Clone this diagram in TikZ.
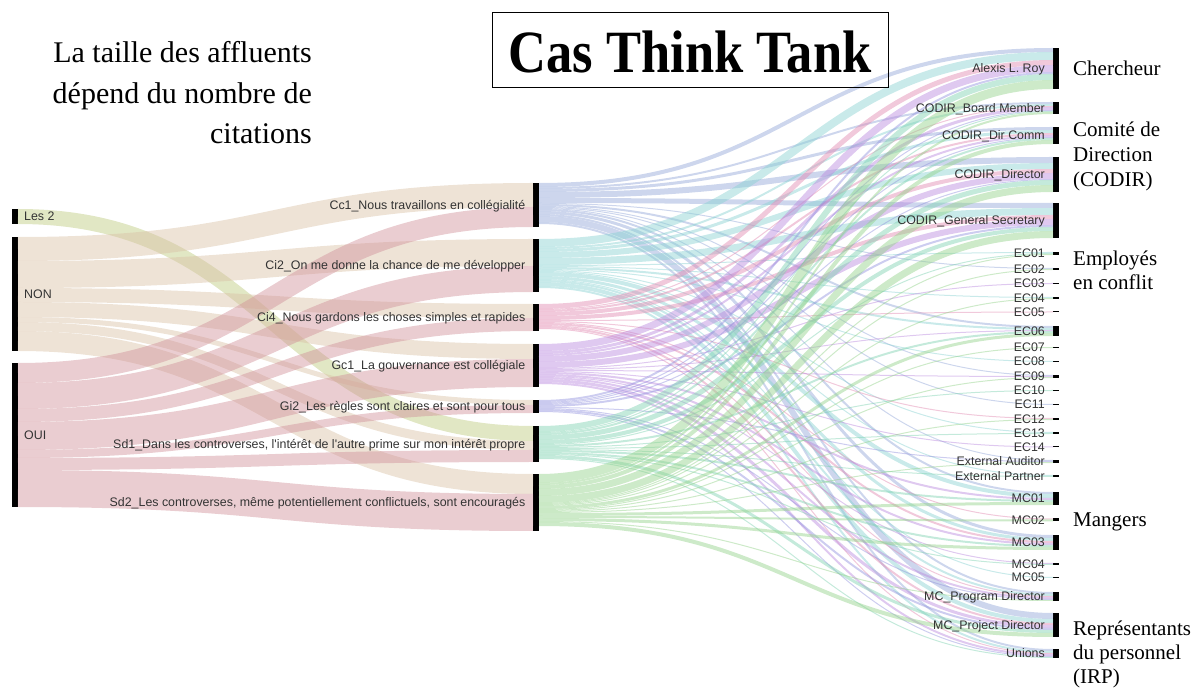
\documentclass[tikz,border=0pt]{standalone}
\usepackage{fontspec}
\setmainfont{Liberation Serif}
\newfontfamily\sansf{Liberation Sans}
\usepackage{graphicx}
\definecolor{cNON}{HTML}{D9C1A5}
\definecolor{cOUI}{HTML}{D19199}
\definecolor{cL2}{HTML}{BDC97D}
\definecolor{cCc1}{HTML}{91A5D7}
\definecolor{cCi2}{HTML}{87D1D1}
\definecolor{cCi4}{HTML}{E187AF}
\definecolor{cGc1}{HTML}{B987DD}
\definecolor{cGi2}{HTML}{9191DD}
\definecolor{cSd1}{HTML}{7DD1AF}
\definecolor{cSd2}{HTML}{91D187}
\definecolor{labelgray}{HTML}{333333}
\newcommand\lk[3]{%
  \pgfmathsetmacro\lka{\csname o@#1\endcsname}%
  \pgfmathsetmacro\lkb{\csname i@#2\endcsname}%
  \pgfmathsetmacro\lkc{\lka+#3}%
  \pgfmathsetmacro\lkd{\lkb+#3}%
  \expandafter\xdef\csname o@#1\endcsname{\lkc}%
  \expandafter\xdef\csname i@#2\endcsname{\lkd}%
  \pgfmathsetmacro\lks{\lka+#3/2}%
  \pgfmathsetmacro\lkt{\lkb+#3/2}%
  \draw[flow, draw=c#1, line width=#3pt] ([yshift=-\lks pt]#1.north east) .. controls +(257.5pt,0) and +(-257.5pt,0) .. ([yshift=-\lkt pt]#2.north west);%
}
\begin{document}
\begin{tikzpicture}[x=1pt, y=-1pt,
  bar/.style={fill=black, draw=none, inner sep=0, outer sep=0, minimum width=6pt},
  flow/.style={draw opacity=0.45},
  lbl/.style={font=\sansf\fontsize{12.4}{14}\selectfont, text=labelgray, inner sep=0},
  rl/.style={font=\fontsize{21}{25}\selectfont, anchor=base west, inner sep=0},
  tl/.style={font=\fontsize{30}{40}\selectfont, anchor=base east, inner sep=0}]
\useasboundingbox (0,0) rectangle (1203,692);
% offsets
\foreach \n in {L2,NON,OUI,Cc1,Ci2,Ci4,Gc1,Gi2,Sd1,Sd2,Roy,Board,DirComm,Director,GenSec,EC01,EC02,EC03,EC04,EC05,EC06,EC07,EC08,EC09,EC10,EC11,EC12,EC13,EC14,ExtAud,ExtPart,MC01,MC02,MC03,MC04,MC05,MCProg,MCProj,Unions}{%
  \expandafter\xdef\csname o@\n\endcsname{0}%
  \expandafter\xdef\csname i@\n\endcsname{0}}
% left bars
\node[bar, minimum height=15pt] (L2) at (15,216.5) {};
\node[bar, minimum height=114pt] (NON) at (15,294) {};
\node[bar, minimum height=144pt] (OUI) at (15,435) {};
% middle bars
\node[bar, minimum height=44pt] (Cc1) at (536,205) {};
\node[bar, minimum height=53pt] (Ci2) at (536,265.5) {};
\node[bar, minimum height=27pt] (Ci4) at (536,317.5) {};
\node[bar, minimum height=43pt] (Gc1) at (536,365.5) {};
\node[bar, minimum height=13pt] (Gi2) at (536,406.5) {};
\node[bar, minimum height=36pt] (Sd1) at (536,444) {};
\node[bar, minimum height=57pt] (Sd2) at (536,502.5) {};
% right bars
\node[bar, minimum height=41pt] (Roy) at (1056,68.5) {};
\node[bar, minimum height=12pt] (Board) at (1056,108) {};
\node[bar, minimum height=17pt] (DirComm) at (1056,135.5) {};
\node[bar, minimum height=35pt] (Director) at (1056,174.5) {};
\node[bar, minimum height=35pt] (GenSec) at (1056,220.5) {};
\node[bar, minimum height=3pt] (EC01) at (1056,253.5) {};
\node[bar, minimum height=2pt] (EC02) at (1056,269) {};
\node[bar, minimum height=1pt] (EC03) at (1056,283.5) {};
\node[bar, minimum height=2pt] (EC04) at (1056,298) {};
\node[bar, minimum height=1pt] (EC05) at (1056,312) {};
\node[bar, minimum height=10pt] (EC06) at (1056,331) {};
\node[bar, minimum height=1pt] (EC07) at (1056,347.5) {};
\node[bar, minimum height=1pt] (EC08) at (1056,361.5) {};
\node[bar, minimum height=3pt] (EC09) at (1056,376.5) {};
\node[bar, minimum height=1pt] (EC10) at (1056,390.5) {};
\node[bar, minimum height=1pt] (EC11) at (1056,404.5) {};
\node[bar, minimum height=2pt] (EC12) at (1056,419) {};
\node[bar, minimum height=2pt] (EC13) at (1056,433) {};
\node[bar, minimum height=1pt] (EC14) at (1056,447) {};
\node[bar, minimum height=3pt] (ExtAud) at (1056,461.5) {};
\node[bar, minimum height=2pt] (ExtPart) at (1056,476) {};
\node[bar, minimum height=13pt] (MC01) at (1056,498.5) {};
\node[bar, minimum height=3pt] (MC02) at (1056,520) {};
\node[bar, minimum height=15pt] (MC03) at (1056,542.5) {};
\node[bar, minimum height=2pt] (MC04) at (1056,564) {};
\node[bar, minimum height=1pt] (MC05) at (1056,577.5) {};
\node[bar, minimum height=9pt] (MCProg) at (1056,596.5) {};
\node[bar, minimum height=24pt] (MCProj) at (1056,625) {};
\node[bar, minimum height=9pt] (Unions) at (1056,653.5) {};
% left -> middle flows
\lk{L2}{Sd1}{15}
\lk{NON}{Cc1}{24}\lk{NON}{Ci2}{27}\lk{NON}{Ci4}{14}\lk{NON}{Gc1}{15}\lk{NON}{Gi2}{5}\lk{NON}{Sd1}{9}\lk{NON}{Sd2}{20}
\lk{OUI}{Cc1}{20}\lk{OUI}{Ci2}{26}\lk{OUI}{Ci4}{13}\lk{OUI}{Gc1}{28}\lk{OUI}{Gi2}{8}\lk{OUI}{Sd1}{12}\lk{OUI}{Sd2}{37}
% middle -> right flows
\lk{Cc1}{Roy}{4}\lk{Cc1}{Board}{2}\lk{Cc1}{DirComm}{3}\lk{Cc1}{Director}{6}\lk{Cc1}{GenSec}{5}\lk{Cc1}{EC02}{1}\lk{Cc1}{EC06}{2}\lk{Cc1}{EC09}{1}\lk{Cc1}{EC11}{1}\lk{Cc1}{ExtAud}{1}\lk{Cc1}{MC01}{2}\lk{Cc1}{MC03}{3}\lk{Cc1}{MCProg}{2}\lk{Cc1}{MCProj}{6}\lk{Cc1}{Unions}{2}
\lk{Ci2}{Roy}{8}\lk{Ci2}{Board}{2}\lk{Ci2}{DirComm}{3}\lk{Ci2}{Director}{6}\lk{Ci2}{GenSec}{7}\lk{Ci2}{EC01}{1}\lk{Ci2}{EC04}{1}\lk{Ci2}{EC06}{2}\lk{Ci2}{EC08}{1}\lk{Ci2}{EC13}{1}\lk{Ci2}{ExtPart}{1}\lk{Ci2}{MC01}{4}\lk{Ci2}{MC03}{3}\lk{Ci2}{MC05}{1}\lk{Ci2}{MCProg}{2}\lk{Ci2}{MCProj}{4}\lk{Ci2}{Unions}{2}
\lk{Ci4}{Roy}{5}\lk{Ci4}{Board}{1}\lk{Ci4}{DirComm}{2}\lk{Ci4}{Director}{4}\lk{Ci4}{GenSec}{4}\lk{Ci4}{EC05}{1}\lk{Ci4}{EC12}{1}\lk{Ci4}{MC02}{1}\lk{Ci4}{MC03}{2}\lk{Ci4}{MCProg}{1}\lk{Ci4}{MCProj}{2}\lk{Ci4}{Unions}{1}
\lk{Gc1}{Roy}{7}\lk{Gc1}{Board}{3}\lk{Gc1}{DirComm}{2}\lk{Gc1}{Director}{6}\lk{Gc1}{GenSec}{6}\lk{Gc1}{EC03}{1}\lk{Gc1}{EC06}{1}\lk{Gc1}{EC09}{1}\lk{Gc1}{EC14}{1}\lk{Gc1}{MC01}{2}\lk{Gc1}{MC03}{2}\lk{Gc1}{MC04}{1}\lk{Gc1}{MCProg}{2}\lk{Gc1}{MCProj}{3}\lk{Gc1}{Unions}{2}
\lk{Gi2}{Roy}{2}\lk{Gi2}{Board}{1}\lk{Gi2}{DirComm}{1}\lk{Gi2}{Director}{1}\lk{Gi2}{GenSec}{2}\lk{Gi2}{ExtAud}{1}\lk{Gi2}{MCProg}{1}\lk{Gi2}{MCProj}{2}\lk{Gi2}{Unions}{1}
\lk{Sd1}{Roy}{6}\lk{Sd1}{Board}{1}\lk{Sd1}{DirComm}{2}\lk{Sd1}{Director}{5}\lk{Sd1}{GenSec}{4}\lk{Sd1}{EC01}{1}\lk{Sd1}{EC06}{2}\lk{Sd1}{EC10}{1}\lk{Sd1}{EC13}{1}\lk{Sd1}{ExtPart}{1}\lk{Sd1}{MC01}{2}\lk{Sd1}{MC03}{2}\lk{Sd1}{MC04}{1}\lk{Sd1}{MCProj}{3}\lk{Sd1}{Unions}{1}
\lk{Sd2}{Roy}{9}\lk{Sd2}{Board}{2}\lk{Sd2}{DirComm}{4}\lk{Sd2}{Director}{7}\lk{Sd2}{GenSec}{7}\lk{Sd2}{EC01}{1}\lk{Sd2}{EC02}{1}\lk{Sd2}{EC04}{1}\lk{Sd2}{EC06}{3}\lk{Sd2}{EC07}{1}\lk{Sd2}{EC09}{1}\lk{Sd2}{EC12}{1}\lk{Sd2}{ExtAud}{1}\lk{Sd2}{MC01}{3}\lk{Sd2}{MC02}{2}\lk{Sd2}{MC03}{3}\lk{Sd2}{MCProg}{1}\lk{Sd2}{MCProj}{4}
% left labels
\node[lbl, anchor=base west] (tL2) at ([xshift=6pt,yshift=-4.3pt]L2.east) {Les 2};
\node[lbl, anchor=base west] (tNON) at ([xshift=6pt,yshift=-4.3pt]NON.east) {NON};
\node[lbl, anchor=base west] (tOUI) at ([xshift=6pt,yshift=-4.3pt]OUI.east) {OUI};
% middle labels
\foreach \n/\t in {Cc1/{Cc1\_Nous travaillons en collégialité},
  Ci2/{Ci2\_On me donne la chance de me développer},
  Ci4/{Ci4\_Nous gardons les choses simples et rapides},
  Gc1/{Gc1\_La gouvernance est collégiale},
  Gi2/{Gi2\_Les règles sont claires et sont pour tous},
  Sd1/{Sd1\_Dans les controverses, l'intérêt de l'autre prime sur mon intérêt propre},
  Sd2/{Sd2\_Les controverses, même potentiellement conflictuels, sont encouragés}}
  {\node[lbl, anchor=base east] (t\n) at ([xshift=-7.5pt,yshift=-4.3pt]\n.west) {\t};}
% right labels
\foreach \n/\t in {Roy/{Alexis L. Roy}, Board/{CODIR\_Board Member}, DirComm/{CODIR\_Dir Comm},
  Director/{CODIR\_Director}, GenSec/{CODIR\_General Secretary},
  EC01/EC01, EC02/EC02, EC03/EC03, EC04/EC04, EC05/EC05, EC06/EC06, EC07/EC07,
  EC08/EC08, EC09/EC09, EC10/EC10, EC11/EC11, EC12/EC12, EC13/EC13, EC14/EC14,
  ExtAud/{External Auditor}, ExtPart/{External Partner},
  MC01/MC01, MC02/MC02, MC03/MC03, MC04/MC04, MC05/MC05,
  MCProg/{MC\_Program Director}, MCProj/{MC\_Project Director}, Unions/Unions}
  {\node[lbl, anchor=base east] (t\n) at ([xshift=-8pt,yshift=-4.3pt]\n.west) {\t};}
% title
\node[draw, line width=0.8pt, minimum width=396pt, minimum height=75pt, inner sep=0] (tbox) at (690,49.5) {};
\node[anchor=base, inner sep=0] (title) at (690,73) {\scalebox{0.875}[1]{\fontsize{60}{60}\selectfont\bfseries Cas Think Tank}};
% top-left note
\node[tl] (n1) at (312,63) {La taille des affluents};
\node[tl] (n2) at (312,103.5) {dépend du nombre de};
\node[tl] (n3) at (312,144) {citations};
% group labels
\node[rl] (g1) at (1073,76) {Chercheur};
\node[rl] (g2) at (1073,137) {Comité de};
\node[rl] (g3) at (1073,162) {Direction};
\node[rl] (g4) at (1073,187) {(CODIR)};
\node[rl] (g5) at (1073,266) {Employés};
\node[rl] (g6) at (1073,290) {en conflit};
\node[rl] (g7) at (1073,527) {Mangers};
\node[rl] (g8) at (1073,635) {Représentants};
\node[rl] (g9) at (1073,659) {du personnel};
\node[rl] (g10) at (1073,683) {(IRP)};
\end{tikzpicture}
\end{document}
